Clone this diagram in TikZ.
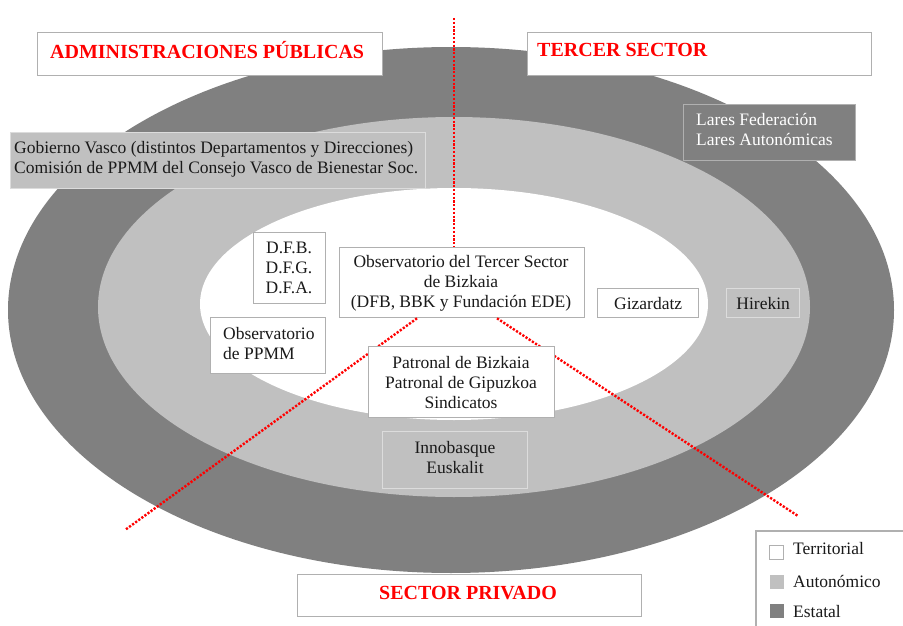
\documentclass[tikz,border=0pt]{standalone}
\usepackage{fontspec}
\setmainfont{Liberation Serif}
\definecolor{dg}{HTML}{808080}
\definecolor{lg}{HTML}{C0C0C0}
\definecolor{bw}{HTML}{B0B0B0}
\definecolor{bl}{HTML}{DCDCDC}
\definecolor{tx}{HTML}{1A1A1A}
\definecolor{rd}{HTML}{FF0000}
\tikzset{
  wbox/.style={draw=bw, fill=white, line width=1.3pt, rectangle, inner sep=0pt, anchor=north west},
  lgbox/.style={draw=bl, fill=lg, line width=1.3pt, rectangle, inner sep=0pt, anchor=north west},
  dgbox/.style={draw=bw, fill=dg, line width=1.3pt, rectangle, inner sep=0pt, anchor=north west},
  ttl/.style={text=rd, font=\fontsize{20}{24}\selectfont\bfseries, inner sep=0pt},
  body/.style={text=tx, font=\fontsize{17.5}{20}\selectfont, inner sep=0pt},
  reddot/.style={draw=rd, line width=2.4pt, dash pattern=on 2.2pt off 1.6pt},
  sq/.style={rectangle, minimum width=14pt, minimum height=14pt, inner sep=0pt, line width=1pt}
}
\begin{document}
\begin{tikzpicture}[x=1pt,y=-1pt]
\useasboundingbox (0,0) rectangle (903,626);
\fill[white] (0,0) rectangle (903,626);
% rings
\fill[dg] (451,310) ellipse [x radius=443pt, y radius=263pt];
\fill[lg] (454,307) ellipse [x radius=356pt, y radius=190pt];
\fill[white] (454,304) ellipse [x radius=254pt, y radius=116pt];
% dotted separators
\coordinate (vtop) at (454,18);
\coordinate (ldend) at (125,530);
\coordinate (rdend) at (798,516);
\node[wbox, minimum width=245pt, minimum height=70pt] (obs) at (339,247) {};
\draw[reddot] (vtop) -- (vtop |- obs.north);
\draw[reddot] (obs.south west) ++(78,0) coordinate (ls) (ls) -- (ldend);
\draw[reddot] (obs.south west) ++(158,0) coordinate (rs) (rs) -- (rdend);
% title boxes
\node[wbox, minimum width=345pt, minimum height=43pt] (admb) at (37,32) {};
\node[ttl, anchor=west] (admt) at (50,50) {ADMINISTRACIONES PÚBLICAS};
\node[wbox, minimum width=344pt, minimum height=43pt] (tsb) at (527,32) {};
\node[ttl, anchor=west] (tst) at (537,50) {TERCER SECTOR};
\node[wbox, minimum width=344pt, minimum height=42pt] (spb) at (297,574) {};
\node[ttl] (spt) at (468,593) {SECTOR PRIVADO};
% autonomous / state boxes
\node[lgbox, minimum width=415pt, minimum height=56pt] (gob) at (10,132) {};
\node[body, anchor=west, align=left] (gobt) at (14,159) {Gobierno Vasco (distintos Departamentos y Direcciones)\\Comisión de PPMM del Consejo Vasco de Bienestar Soc.};
\node[dgbox, minimum width=172pt, minimum height=56pt] (lar) at (683,104) {};
\node[body, text=white, anchor=west, align=left] (lart) at (696,130) {Lares Federación\\Lares Autonómicas};
\node[lgbox, minimum width=73pt, minimum height=29pt] (hir) at (726,288) {};
\node[body] (hirt) at (hir.center) {Hirekin};
\node[lgbox, minimum width=145pt, minimum height=57pt] (inn) at (382,431) {};
\node[body, align=center] (innt) at (455,458) {Innobasque\\Euskalit};
% territorial boxes
\node[body, align=center] (obst) at (461,283) {Observatorio del Tercer Sector\\de Bizkaia\\(DFB, BBK y Fundación EDE)};
\node[wbox, minimum width=72pt, minimum height=71pt] (dfb) at (253,232) {};
\node[body, align=center] (dfbt) at (289,268) {D.F.B.\\D.F.G.\\D.F.A.};
\node[wbox, minimum width=101pt, minimum height=29pt] (giz) at (597,288) {};
\node[body] (gizt) at (giz.center) {Gizardatz};
\node[wbox, minimum width=115pt, minimum height=56pt] (ppm) at (210,317) {};
\node[body, anchor=west, align=left] (ppmt) at (223,344) {Observatorio\\de PPMM};
\node[wbox, minimum width=186pt, minimum height=71pt] (pat) at (368,346) {};
\node[body, align=center] (patt) at (461,383) {Patronal de Bizkaia\\Patronal de Gipuzkoa\\Sindicatos};
% legend
\draw[bw, line width=1.3pt, fill=white] (756,531) rectangle (910,640);
\node[sq, draw=bw, fill=white, anchor=north west] (sqt) at (769,545) {};
\node[sq, fill=lg, anchor=north west] (sqa) at (769,574) {};
\node[sq, fill=dg, anchor=north west] (sqe) at (769,603) {};
\node[body, anchor=west] (lt) at (793,549) {Territorial};
\node[body, anchor=west] (la) at (793,581) {Autonómico};
\node[body, anchor=west] (le) at (793,612) {Estatal};
\end{tikzpicture}
\end{document}
